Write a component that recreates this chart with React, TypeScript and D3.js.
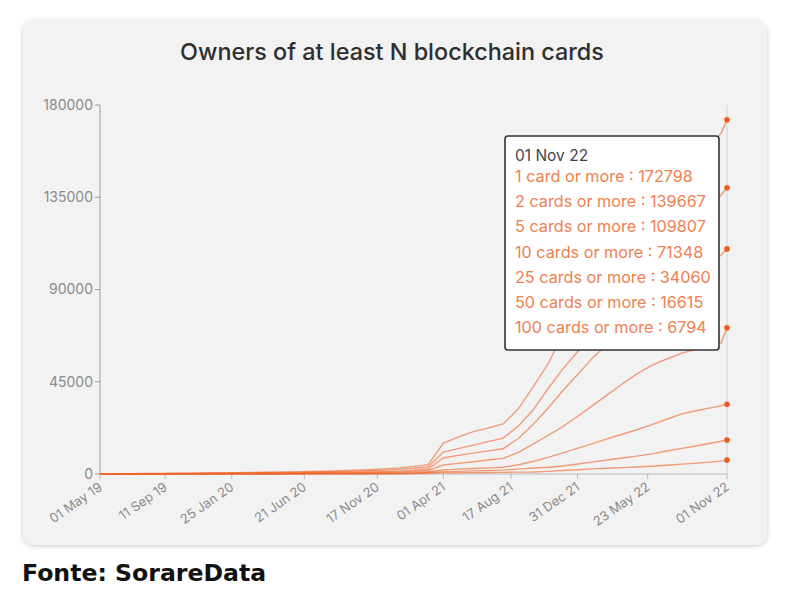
import * as d3 from "d3";

// monthly snapshots + one extra point in late Oct 2022
const dates = [
  "2019-05-01", "2019-06-01", "2019-07-01", "2019-08-01", "2019-09-01", "2019-10-01", "2019-11-01", "2019-12-01",
  "2020-01-01", "2020-02-01", "2020-03-01", "2020-04-01", "2020-05-01", "2020-06-01", "2020-07-01", "2020-08-01",
  "2020-09-01", "2020-10-01", "2020-11-01", "2020-12-01", "2021-01-01", "2021-02-01", "2021-03-01", "2021-04-01",
  "2021-05-01", "2021-06-01", "2021-07-01", "2021-08-01", "2021-09-01", "2021-10-01", "2021-11-01", "2021-12-01",
  "2022-01-01", "2022-02-01", "2022-03-01", "2022-04-01", "2022-05-01", "2022-06-01", "2022-07-01", "2022-08-01",
  "2022-09-01", "2022-10-01", "2022-10-20", "2022-11-01",
];

const seriesNames = [
  "1 card or more",
  "2 cards or more",
  "5 cards or more",
  "10 cards or more",
  "25 cards or more",
  "50 cards or more",
  "100 cards or more",
];

const card1 = [0, 80, 150, 220, 300, 380, 450, 520, 600, 680, 760, 850, 950, 1050, 1200, 1350, 1550, 1800, 2100, 2500, 3000, 3700,
  4600, 15100, 18000, 20700, 22400, 24400, 31800, 42400, 53900, 68000,
  80000, 91000, 101000, 111000, 120000, 129000, 137000, 145000, 153000, 161000, 166300, 172798];
const card2 = [0, 50, 100, 150, 200, 250, 300, 360, 420, 480, 540, 600, 670, 750, 850, 950, 1100, 1300, 1550, 1850, 2250, 2800,
  3500, 10700, 12400, 14100, 15800, 17500, 23400, 31200, 41700, 51300,
  60000, 68000, 76000, 84000, 92000, 100000, 108000, 116000, 124000, 131000, 136000, 139667];
const card5 = [0, 30, 60, 90, 120, 150, 180, 210, 250, 290, 330, 370, 410, 460, 520, 590, 680, 800, 950, 1150, 1400, 1800,
  2500, 7800, 9100, 10200, 11300, 12300, 17300, 24100, 32200, 40700,
  48800, 57000, 63000, 69000, 75000, 81000, 86500, 92000, 97500, 103000, 106800, 109807];
const card10 = [0, 20, 40, 60, 80, 100, 120, 140, 160, 180, 200, 230, 260, 290, 330, 380, 440, 520, 620, 740, 900, 1200,
  1800, 4400, 5200, 6000, 6800, 7600, 10500, 14600, 18900, 23100,
  28300, 33600, 38500, 43900, 48800, 53100, 56100, 59000, 61000, 62800, 64000, 71348];
const card25 = [0, 10, 20, 30, 40, 50, 60, 70, 80, 90, 100, 115, 130, 150, 170, 200, 230, 270, 320, 390, 480, 650,
  1100, 2000, 2400, 2700, 3000, 3300, 4500, 6100, 8100, 10300,
  12600, 14900, 17100, 19400, 21600, 24100, 26700, 29300, 31000, 32400, 33300, 34060];
const card50 = [0, 5, 10, 15, 20, 25, 30, 35, 40, 45, 50, 57, 64, 72, 82, 95, 110, 130, 155, 190, 230, 360,
  700, 1100, 1300, 1500, 1700, 1900, 2400, 2900, 3300, 3900,
  4900, 5900, 6800, 7800, 8700, 9800, 11200, 12500, 13800, 15100, 16000, 16615];
const card100 = [0, 3, 6, 9, 12, 15, 18, 21, 24, 27, 30, 33, 36, 42, 48, 54, 60, 72, 84, 102, 126, 200,
  400, 550, 600, 650, 700, 800, 900, 1000, 1300, 1700,
  2100, 2500, 2800, 3100, 3400, 3800, 4300, 4800, 5300, 5900, 6300, 6794];

const allSeries = [card1, card2, card5, card10, card25, card50, card100];

const xTickDates = ["2019-05-01", "2019-09-11", "2020-01-25", "2020-06-21", "2020-11-17",
  "2021-04-01", "2021-08-17", "2021-12-31", "2022-05-23", "2022-11-01"];
const yTicks = [0, 45000, 90000, 135000, 180000];

const parse = d3.timeParse("%Y-%m-%d");
const fmt = d3.timeFormat("%d %b %y");

export default function App() {
  const W = 790, H = 598;
  const x = d3.scaleTime()
    .domain([parse("2019-05-01")!, parse("2022-11-01")!])
    .range([100, 727]);
  const y = d3.scaleLinear().domain([0, 180000]).range([474, 105]);

  const parsed = dates.map((d) => parse(d)!);
  const line = d3.line<number>()
    .x((_, i) => x(parsed[i]))
    .y((v) => y(v));

  const last = parsed.length - 1;
  const orange = "#f0642a";
  const tipX = 505, tipY = 136, tipW = 214, tipH = 214;

  return (
    <svg width={W} height={H} style={{ position: "absolute", left: 0, top: 0, fontFamily: "Inter, sans-serif" }}>
      <defs>
        <filter id="shadow" x="-5%" y="-5%" width="110%" height="110%">
          <feDropShadow dx="0" dy="1" stdDeviation="2.5" floodColor="#000" floodOpacity="0.22" />
        </filter>
      </defs>
      <rect x={0} y={0} width={W} height={H} fill="#fff" />
      <rect x={23} y={20} width={744} height={525} rx={12} fill="#f2f2f2" filter="url(#shadow)" />

      <text x={392} y={60} textAnchor="middle" fontSize={23.4} fontWeight={500} fill="#2e2e2e">
        Owners of at least N blockchain cards
      </text>

      {/* crosshair */}
      <line x1={727} x2={727} y1={105} y2={474} stroke="#dcdcdc" strokeWidth={1.5} />

      {/* y axis */}
      <line x1={100} x2={100} y1={105} y2={474} stroke="#9a9a9a" />
      {yTicks.map((t) => (
        <g key={t}>
          <line x1={95} x2={100} y1={y(t)} y2={y(t)} stroke="#9a9a9a" />
          <text x={93} y={y(t)} dy="0.35em" textAnchor="end" fontSize={14} fill="#8a8a8a">{t}</text>
        </g>
      ))}

      {/* x axis */}
      <line x1={100} x2={727} y1={474} y2={474} stroke="#b8b8b8" />
      {xTickDates.map((s) => {
        const d = parse(s)!;
        const px = x(d);
        return (
          <g key={s}>
            <line x1={px} x2={px} y1={474} y2={479} stroke="#b8b8b8" />
            <text
              transform={`translate(${px + 3},${489}) rotate(-35)`}
              textAnchor="end"
              fontSize={13}
              fill="#8a8a8a"
            >
              {fmt(d)}
            </text>
          </g>
        );
      })}

      {/* series */}
      {allSeries.map((s, i) => (
        <path key={seriesNames[i]} d={line(s) ?? ""} fill="none" stroke={orange} strokeOpacity={0.62} strokeWidth={1.4} />
      ))}
      {allSeries.map((s, i) => (
        <circle key={"dot" + i} cx={x(parsed[last])} cy={y(s[last])} r={2.8} fill="#ef5b1c" />
      ))}

      {/* tooltip */}
      <rect x={tipX} y={tipY} width={tipW} height={tipH} rx={3} fill="#fff" stroke="#333" strokeWidth={1.6} />
      <text x={tipX + 10} y={tipY + 25} fontSize={15.5} fill="#444">{fmt(parsed[last])}</text>
      {allSeries.map((s, i) => (
        <text key={"tt" + i} x={tipX + 10} y={tipY + 46 + i * 25.2} fontSize={16.2} fill="#ee8050">
          {`${seriesNames[i]} : ${s[last]}`}
        </text>
      ))}

      <text x={22} y={581} fontSize={23.6} fontWeight={700} fill="#111" fontFamily="'DejaVu Sans', sans-serif">
        Fonte: SorareData
      </text>
    </svg>
  );
}
